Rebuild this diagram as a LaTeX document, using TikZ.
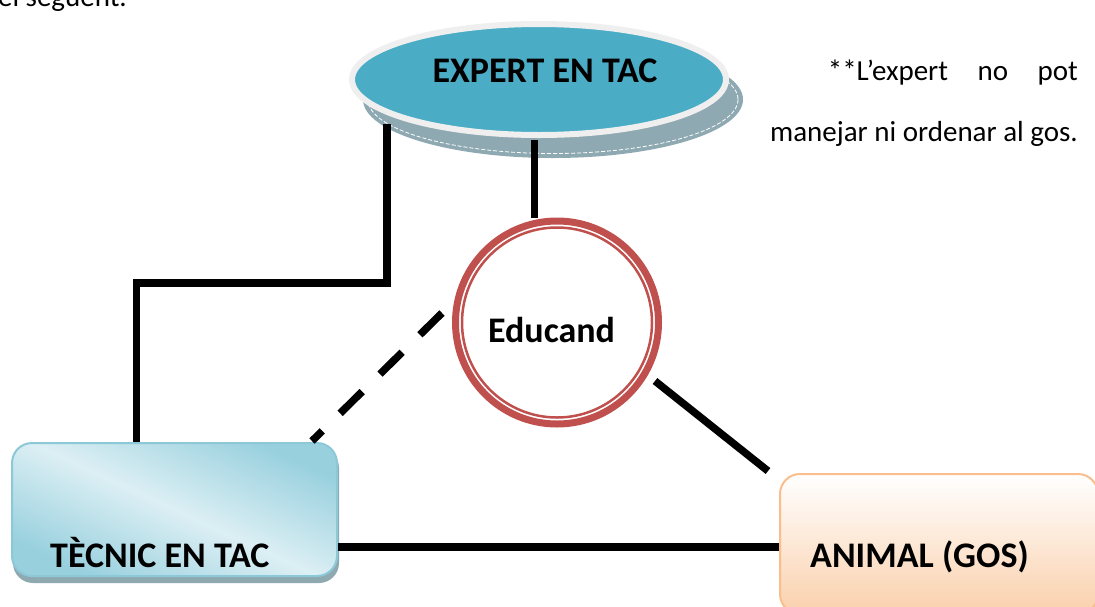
\documentclass[tikz,border=0pt]{standalone}
\usepackage{fontspec}
\setmainfont{Carlito}
\usetikzlibrary{shapes.geometric}
\definecolor{ellblue}{HTML}{4BACC6}
\definecolor{ellrim}{HTML}{EFEFEF}
\definecolor{ellshadow}{HTML}{8FA9B2}
\definecolor{edured}{HTML}{C0504D}
\definecolor{teclight}{HTML}{DCEFF4}
\definecolor{tecdark}{HTML}{98D0DE}
\definecolor{tecborder}{HTML}{8CC8D8}
\definecolor{tecshadow}{HTML}{8FA9B0}
\definecolor{anipeach}{HTML}{FAD0AC}
\definecolor{aniborder}{HTML}{F9BE8B}
\begin{document}
\begin{tikzpicture}[x=1pt,y=-1pt,
  conn/.style={line width=7.5pt, black},
  bigtext/.style={font=\fontsize{36}{40}\selectfont\bfseries, inner sep=0pt},
  note/.style={font=\fontsize{29}{34}\selectfont, inner sep=0pt}]
\useasboundingbox (0,0) rectangle (1095,606);
\clip (0,0) rectangle (1095,606);

% clipped text at the top
\node[note, anchor=base east] (toptext) at (127,6) {el següent.};

% side note
\node[note, anchor=base east] (note1) at (1078,80) {\hbox to 250pt{**L’expert\hfill no\hfill pot}};
\node[note, anchor=base east] (note2) at (1078,141) {manejar ni ordenar al gos.};

% expert ellipse with shadow
\fill[ellshadow] (553,99.5) ellipse [x radius=190, y radius=58.5];
\draw[white, line width=0.8pt, dash pattern=on 4pt off 2pt] (553,99.5) ellipse [x radius=185, y radius=54];
\path[draw=ellrim, line width=6pt, fill=ellblue] (539,79.5) ellipse [x radius=187, y radius=55.5];
\node[bigtext, anchor=base] (exp) at (545,82) {EXPERT EN TAC};

% educand circle
\node[circle, draw=edured, line width=7pt, minimum size=203, fill=white] (edu) at (557,322.5) {};
\draw[edured, line width=2.5pt] (edu.center) circle (95);
\node[bigtext, anchor=base] (edutext) at (551.5,342) {Educand};

% tecnic box
\fill[tecshadow, rounded corners=20pt] (13,448) rectangle (339,583);
\node[draw=tecborder, line width=2pt, rounded corners=20pt, minimum width=325, minimum height=133,
  top color=tecdark, bottom color=tecdark, middle color=teclight, shading angle=-25] (tec) at (174.5,509.5) {};
\node[bigtext, anchor=base west] (tectext) at (50,567) {TÈCNIC EN TAC};

% animal box
\node[draw=aniborder, line width=2pt, rounded corners=20pt, minimum width=318, minimum height=140,
  top color=white, bottom color=anipeach, anchor=north west] (ani) at (779,473) {};
\node[bigtext, anchor=base west] (anitext) at (810,567) {ANIMAL (GOS)};

% connectors
\coordinate (eL) at (387,124);
\coordinate (bendA) at (387,283);
\coordinate (bendB) at (136.5,283);
\draw[conn] (eL) -- (bendA) -- (bendB) -- (bendB |- tec.north);

\coordinate (eB) at (534.5,140);
\draw[conn] (eB) -- (eB |- edu.north);

\coordinate (dA) at (442,313);
\coordinate (dB) at (312,441);
\draw[conn, dash pattern=on 31pt off 25pt] (dA) -- (dB);

\coordinate (rA) at (655,381);
\coordinate (rB) at (768,471);
\draw[conn] (rA) -- (rB);

\coordinate (hA) at (338,547);
\draw[conn] (hA) -- (hA -| ani.west);
\end{tikzpicture}
\end{document}
